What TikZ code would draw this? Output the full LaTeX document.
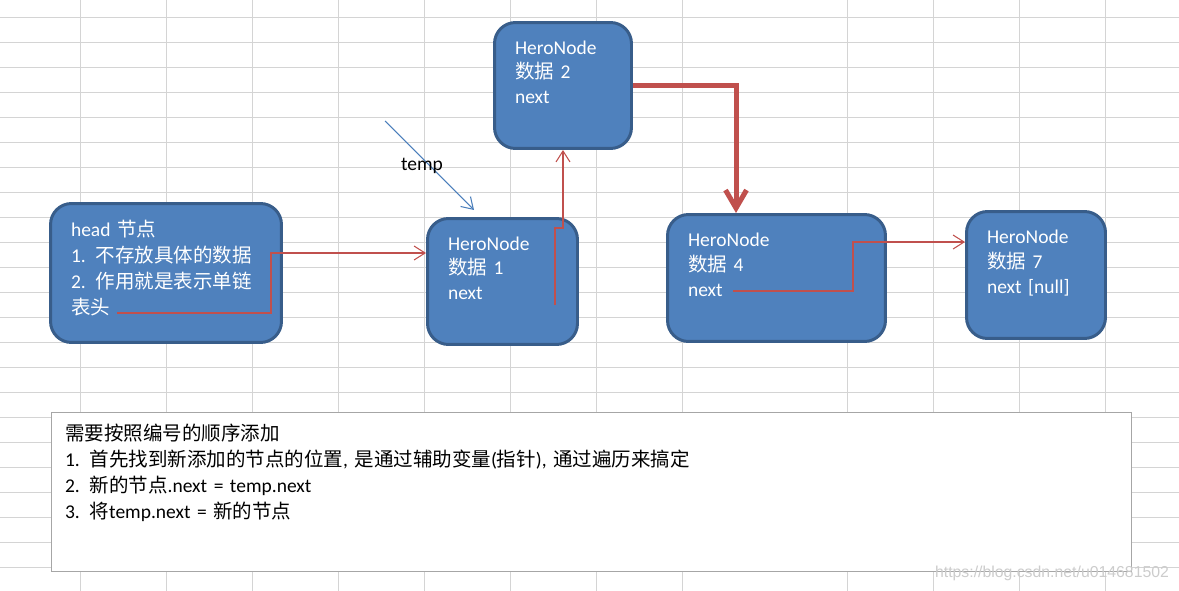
\documentclass[tikz,border=0pt]{standalone}
\usepackage{fontspec}
\setmainfont{Carlito}
\newfontfamily\cjkfont{Noto Sans CJK SC}
\newfontfamily\markfont{Liberation Sans}
\newcommand{\zhtext}[1]{{\cjkfont #1}}
\usetikzlibrary{arrows.meta}

\definecolor{boxfill}{HTML}{4F81BD}
\definecolor{boxline}{HTML}{385D8A}
\definecolor{linkred}{HTML}{C0504D}
\definecolor{ptrblue}{HTML}{4A7EBB}
\definecolor{gridgray}{HTML}{D4D4D4}
\definecolor{notegray}{HTML}{A6A6A6}

\begin{document}
\begin{tikzpicture}[x=0.02cm, y=-0.02cm,
  hero/.style={draw=boxline, fill=boxfill, line width=1.7pt, rounded corners=0.42cm,
    text=white, align=left, inner xsep=0.41cm, inner ysep=0pt,
    font=\fontsize{11.1}{14.2}\selectfont, text height=0.3cm, text depth=1.56cm},
  link/.style={linkred, line width=0.6pt, -{Straight Barb[length=0.22cm, width=0.28cm]}},
  bold link/.style={linkred, line width=2.85pt, -{Straight Barb[length=0.36cm, width=0.42cm]}},
  gridline/.style={gridgray, line width=0.55pt}]

\useasboundingbox (0,0) rectangle (1179,591);

% sheet grid behind everything
\foreach \gx in {80,166,252,338,424,510,596,682,847,933,1019,1105}
  \draw[gridline] (\gx,0) -- (\gx,591);
\foreach \gy in {17,42,...,567}
  \draw[gridline] (0,\gy) -- (1179,\gy);

% list nodes
\node[hero, minimum width=4.62cm, minimum height=2.78cm, text width=3.80cm,
      text depth=1.78cm, font=\fontsize{11.1}{14.8}\selectfont] (head) at (166,273)
  {head \zhtext{节点}\\1. \zhtext{不存放具体的数据}\\2. \zhtext{作用就是表示单链}\\\zhtext{表头}};
\node[hero, minimum width=3.00cm, minimum height=2.52cm, text width=2.18cm] (n1) at (502.5,281.5)
  {HeroNode\\\zhtext{数据} 1\\next};
\node[hero, minimum width=2.74cm, minimum height=2.52cm, text width=1.92cm] (n2) at (563,85.5)
  {HeroNode\\\zhtext{数据} 2\\next};
\node[hero, minimum width=4.36cm, minimum height=2.54cm, text width=3.54cm] (n4) at (776.5,278)
  {HeroNode\\\zhtext{数据} 4\\next};
\node[hero, minimum width=2.78cm, minimum height=2.54cm, text width=1.96cm] (n7) at (1036,275)
  {HeroNode\\\zhtext{数据} 7\\next [null]};

% where the next pointers leave their boxes
\coordinate (headnext) at (117,313);
\coordinate (n1next) at (555,305);
\coordinate (n4next) at (733,291);

\draw[link] (headnext) -| (271,253) -- (n1.west |- 271,253);
\draw[link] (n1next) -- (555,228) -| (n2.south);
\draw[bold link] (n2.east) -| (n4.north -| 736,0);
\draw[link] (n4next) -| (853,242) -- (n7.west |- 853,242);

% temp pointer
\coordinate (tempfrom) at (385,121);
\coordinate (tempto) at (474,210);
\draw[ptrblue, line width=0.6pt, -{Straight Barb[length=0.22cm, width=0.28cm]}] (tempfrom) -- (tempto);
\node[font=\fontsize{11.1}{14.2}\selectfont, inner sep=0pt] (templbl) at (422,166) {temp};

% explanation box
\node[draw=notegray, fill=white, line width=0.6pt, align=left, inner xsep=0.28cm, inner ysep=0pt,
      minimum width=21.62cm, minimum height=3.18cm, text width=21.06cm,
      text height=0.3cm, text depth=2.38cm, font=\fontsize{11.1}{14.8}\selectfont] (note) at (591.5,492)
  {\zhtext{需要按照编号的顺序添加}\\
   1. \zhtext{首先找到新添加的节点的位置}, \zhtext{是通过辅助变量}(\zhtext{指针}), \zhtext{通过遍历来搞定}\\
   2. \zhtext{新的节点}.next = temp.next\\
   3. \zhtext{将}temp.next = \zhtext{新的节点}};

\node[font=\markfont\fontsize{9}{10}\selectfont, text=gray!40, inner sep=0pt] (mark) at (1052,573)
  {https://blog.csdn.net/u014681502};

\end{tikzpicture}
\end{document}
